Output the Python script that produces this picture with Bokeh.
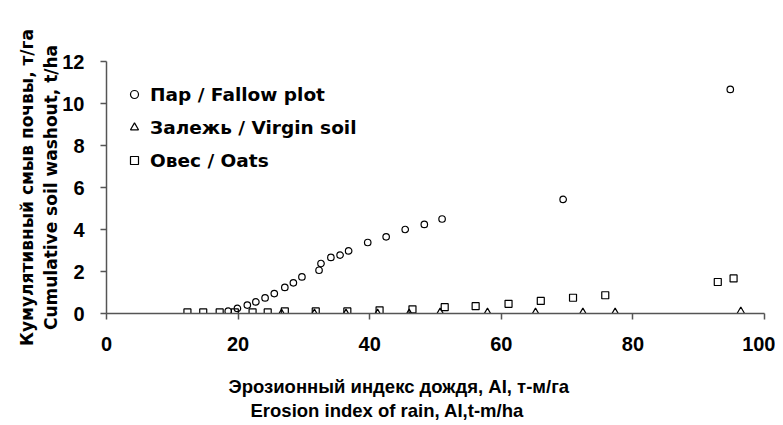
from bokeh.plotting import figure
from bokeh.models import Range1d, FixedTicker, Legend, LegendItem, Title
from bokeh.embed import file_html
from bokeh.resources import INLINE

# Data
fallow_x = [18.5, 19.9, 21.4, 22.7, 24.1, 25.5, 27.1, 28.4, 29.7, 32.3, 32.6, 34.1, 35.5, 36.8, 39.7, 42.5, 45.4, 48.3, 51.0, 69.4, 94.8]
fallow_y = [0.11, 0.24, 0.40, 0.55, 0.74, 0.95, 1.24, 1.46, 1.74, 2.06, 2.38, 2.67, 2.78, 2.98, 3.38, 3.65, 4.00, 4.24, 4.50, 5.43, 10.67]

virgin_x = [26.6, 31.6, 36.4, 41.2, 46.0, 50.7, 57.9, 65.2, 72.4, 77.3, 96.4]
virgin_y = [0.0, 0.0, 0.0, 0.0, 0.0, 0.05, 0.05, 0.05, 0.05, 0.05, 0.1]

oats_x = [12.3, 14.7, 17.2, 19.5, 22.2, 24.5, 27.1, 31.8, 36.6, 41.5, 46.5, 51.4, 56.1, 61.1, 66.0, 70.9, 75.8, 92.9, 95.3]
oats_y = [0.05, 0.05, 0.05, 0.05, 0.05, 0.05, 0.1, 0.1, 0.1, 0.15, 0.2, 0.3, 0.35, 0.46, 0.6, 0.75, 0.87, 1.5, 1.67]

x_ticks = [0, 20, 40, 60, 80, 100]
y_ticks = [0, 2, 4, 6, 8, 10, 12]

labels = ["Пар / Fallow plot", "Залежь / Virgin soil", "Овес / Oats"]
x_title = ["Эрозионный индекс дождя, AI, т-м/га", "Erosion index of rain, AI,t-m/ha"]
y_title = "Кумулятивный смыв почвы, т/га\nCumulative soil washout, t/ha"

TICK_FONT = "Liberation Sans"
TEXT_FONT = "DejaVu Sans"
AX = "#555555"

p = figure(frame_width=658, frame_height=252, output_backend="svg", toolbar_location=None,
           x_range=Range1d(0, 100), y_range=Range1d(0, 12),
           min_border_left=106, min_border_right=11, min_border_top=61, min_border_bottom=104)
p.outline_line_color = None
p.grid.visible = False
p.background_fill_color = "white"
p.border_fill_color = "white"

r1 = p.scatter(fallow_x, fallow_y, marker="circle", size=6.5, fill_color=None, line_color="black", line_width=1.2)
r2 = p.scatter(virgin_x, virgin_y, marker="triangle", size=7.5, fill_color=None, line_color="black", line_width=1.2)
r3 = p.scatter(oats_x, oats_y, marker="square", size=7, fill_color=None, line_color="black", line_width=1.2)

for ax in (p.xaxis[0], p.yaxis[0]):
    ax.axis_line_color = AX
    ax.axis_line_width = 1.5
    ax.major_tick_line_color = AX
    ax.major_tick_line_width = 1.5
    ax.major_tick_in = 0
    ax.major_tick_out = 6
    ax.minor_tick_line_color = None
    ax.major_label_text_font = TICK_FONT
    ax.major_label_text_font_style = "bold"
    ax.major_label_text_font_size = "20px"
    ax.major_label_text_color = "black"

p.xaxis.ticker = FixedTicker(ticks=x_ticks)
p.yaxis.ticker = FixedTicker(ticks=y_ticks)
p.xaxis.major_label_standoff = 17
p.yaxis.major_label_standoff = 16

yax = p.yaxis[0]
yax.axis_label = y_title
yax.axis_label_text_font = TEXT_FONT
yax.axis_label_text_font_style = "bold"
yax.axis_label_text_font_size = "17px"
yax.axis_label_text_color = "black"
yax.axis_label_text_line_height = 1.2
yax.axis_label_standoff = -2

# spacer between the x axis and its two-line title
p.add_layout(Title(text=" ", text_font_size="1px", standoff=16), "below")

# Two-line x-axis title placed below the axis
for txt, off, so in zip(x_title, [122, 144], [2, 0]):
    t = Title(text=txt, align="left", offset=off, standoff=so,
              text_font=TICK_FONT, text_font_style="bold",
              text_font_size="18.5px", text_color="black")
    p.add_layout(t, "below")

legend = Legend(items=[LegendItem(label=labels[0], renderers=[r1]),
                       LegendItem(label=labels[1], renderers=[r2]),
                       LegendItem(label=labels[2], renderers=[r3])],
                location="top_left")
legend.border_line_color = None
legend.background_fill_alpha = 0
legend.margin = 18
legend.padding = 0
legend.spacing = 3
legend.label_height = 30
legend.glyph_height = 30
legend.glyph_width = 20
legend.label_standoff = 6
legend.label_text_font = TEXT_FONT
legend.label_text_font_style = "bold"
legend.label_text_font_size = "18.5px"
legend.label_text_color = "black"
p.add_layout(legend)

open("out.html", "w").write(file_html(p, INLINE))
